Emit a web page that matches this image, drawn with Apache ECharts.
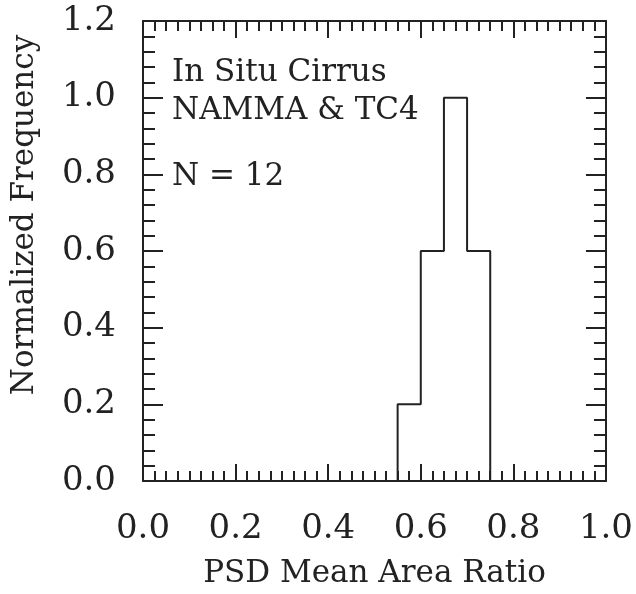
<!DOCTYPE html>
<html>
<head>
<meta charset="utf-8">
<script src="https://cdn.jsdelivr.net/npm/echarts@6/dist/echarts.min.js"></script>
<style>
  html, body { margin: 0; padding: 0; background: #fff; }
  #chart { width: 636px; height: 594px; }
</style>
</head>
<body>
<div id="chart"></div>
<script>
// histogram bins (edges) and normalized frequencies
var binEdges = [0.55, 0.60, 0.65, 0.70, 0.75];
var freqs = [0.2, 0.6, 1.0, 0.6];
var notes = ['In Situ Cirrus', 'NAMMA & TC4', 'N = 12'];

var FONT = 'DejaVu Serif';
var INK = '#222';

// step outline of the histogram
var outline = [[binEdges[0], 0]];
for (var i = 0; i < freqs.length; i++) {
    outline.push([binEdges[i], freqs[i]]);
}
outline.push([binEdges[binEdges.length - 1], 0]);

var chart = echarts.init(document.getElementById('chart'));

function xAx(pos, show) {
    return {
        type: 'value', position: pos, min: 0, max: 1.0, interval: 0.2,
        axisLine: { show: true, onZero: false, lineStyle: { color: INK, width: 2 } },
        axisTick: { inside: true, length: 17, lineStyle: { color: INK, width: 2 } },
        minorTick: { show: true, splitNumber: 8, length: 10, lineStyle: { color: INK, width: 2 } },
        splitLine: { show: false },
        axisLabel: {
            show: show, margin: 31, fontFamily: FONT, fontSize: 34, color: INK,
            formatter: function (v) { return v.toFixed(1); }
        },
        name: show ? 'PSD Mean Area Ratio' : '',
        nameLocation: 'middle', nameGap: 77,
        nameTextStyle: { fontFamily: FONT, fontSize: 31, color: INK }
    };
}

function yAx(pos, show) {
    return {
        type: 'value', position: pos, min: 0, max: 1.2, interval: 0.2,
        axisLine: { show: true, onZero: false, lineStyle: { color: INK, width: 2 } },
        axisTick: { inside: true, length: 20, lineStyle: { color: INK, width: 2 } },
        minorTick: { show: true, splitNumber: 5, length: 12, lineStyle: { color: INK, width: 2 } },
        splitLine: { show: false },
        axisLabel: {
            show: show, margin: 27, fontFamily: FONT, fontSize: 34, color: INK,
            formatter: function (v) { return v.toFixed(1); }
        }
    };
}

var option = {
    backgroundColor: '#fff',
    animation: false,
    grid: { left: 143, right: 28, top: 21, bottom: 109 },
    xAxis: [xAx('bottom', true), xAx('top', false)],
    yAxis: [yAx('left', true), yAx('right', false)],
    graphic: [
        {
            type: 'text', x: 25, y: 215, rotation: Math.PI / 2,
            style: { text: 'Normalized Frequency', font: '31px "' + FONT + '"', fill: INK,
                     textAlign: 'center', textVerticalAlign: 'middle' }
        },
        {
            type: 'text', x: 172, y: 73,
            style: { text: notes[0], font: '31px "' + FONT + '"', fill: INK, textVerticalAlign: 'middle' }
        },
        {
            type: 'text', x: 172, y: 111,
            style: { text: notes[1], font: '31px "' + FONT + '"', fill: INK, textVerticalAlign: 'middle' }
        },
        {
            type: 'text', x: 172, y: 177,
            style: { text: notes[2], font: '31px "' + FONT + '"', fill: INK, textVerticalAlign: 'middle' }
        }
    ],
    series: [
        {
            type: 'line',
            step: 'end',
            data: outline,
            symbol: 'none',
            lineStyle: { color: INK, width: 2 }
        }
    ]
};
chart.setOption(option);
</script>
</body>
</html>
